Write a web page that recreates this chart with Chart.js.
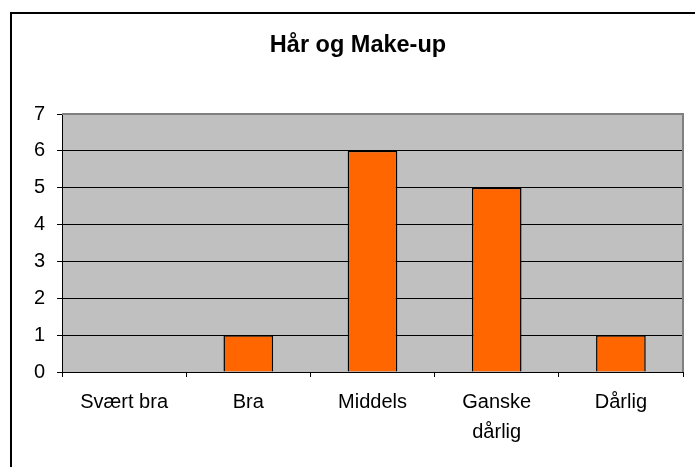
<!DOCTYPE html>
<html>
<head>
<meta charset="utf-8">
<script src="https://cdn.jsdelivr.net/npm/chart.js@4/dist/chart.umd.min.js"></script>
<style>
  html, body { margin: 0; padding: 0; background: #fff; }
  canvas { display: block; }
</style>
</head>
<body>
<canvas id="chart" width="695" height="467"></canvas>
<script>
var categories = ['Svært bra', 'Bra', 'Middels', ['Ganske', 'dårlig'], 'Dårlig'];
var values = [0, 1, 6, 5, 1];
var yTicks = [0, 1, 2, 3, 4, 5, 6, 7];
var titleText = 'Hår og Make-up';

var fontFamily = '"Liberation Sans", Arial, sans-serif';

// gray plot area, its gray frame, the outer chart frame and the title
// (the title sits centred on the whole chart frame, which runs off the right edge)
var frame = {
    id: 'frame',
    beforeDraw: function (chart) {
        var c = chart.ctx, a = chart.chartArea;
        c.save();
        c.fillStyle = '#fff';
        c.fillRect(0, 0, chart.width, chart.height);
        c.strokeStyle = '#000';
        c.lineWidth = 2;
        c.strokeRect(11, 13, chart.width + 20, chart.height + 20);
        c.fillStyle = '#C0C0C0';
        c.fillRect(a.left, a.top, a.right - a.left, a.bottom - a.top);
        c.fillStyle = '#000';
        c.font = 'bold 23.5px ' + fontFamily;
        c.textAlign = 'center';
        c.textBaseline = 'alphabetic';
        c.fillText(titleText, 358, 52);
        c.restore();
    },
    beforeDatasetsDraw: function (chart) {
        var c = chart.ctx, a = chart.chartArea;
        c.save();
        c.strokeStyle = '#808080';
        c.lineWidth = 2;
        c.beginPath();
        c.moveTo(a.left, a.top);
        c.lineTo(a.right, a.top);
        c.lineTo(a.right, a.bottom);
        c.stroke();
        c.restore();
    }
};

new Chart(document.getElementById('chart').getContext('2d'), {
    type: 'bar',
    data: {
        labels: categories,
        datasets: [{
            data: values,
            backgroundColor: '#FF6600',
            borderColor: '#000',
            borderWidth: 1.5,
            categoryPercentage: 1,
            barPercentage: 0.4
        }]
    },
    options: {
        responsive: false,
        animation: false,
        layout: { padding: { left: 0, right: 12, top: 114, bottom: 0 } },
        plugins: {
            legend: { display: false },
            tooltip: { enabled: false },
            title: { display: false }
        },
        scales: {
            x: {
                offset: true,
                afterFit: function (s) { s.height = 95; },
                grid: { display: true, drawOnChartArea: false, drawTicks: true, tickLength: 5, color: '#000', offset: true },
                border: { display: true, color: '#000', width: 1 },
                ticks: {
                    color: '#000',
                    padding: 10,
                    maxRotation: 0,
                    autoSkip: false,
                    font: { family: fontFamily, size: 20, lineHeight: 1.5 }
                }
            },
            y: {
                min: 0,
                max: 7,
                afterFit: function (s) { s.width = 62; },
                afterBuildTicks: function (s) {
                    s.ticks = yTicks.map(function (v) { return { value: v }; });
                },
                grid: { color: '#000', lineWidth: 1, drawTicks: true, tickLength: 5 },
                border: { display: true, color: '#000', width: 1 },
                ticks: {
                    color: '#000',
                    padding: 12,
                    font: { family: fontFamily, size: 20 }
                }
            }
        }
    },
    plugins: [frame]
});
</script>
</body>
</html>
